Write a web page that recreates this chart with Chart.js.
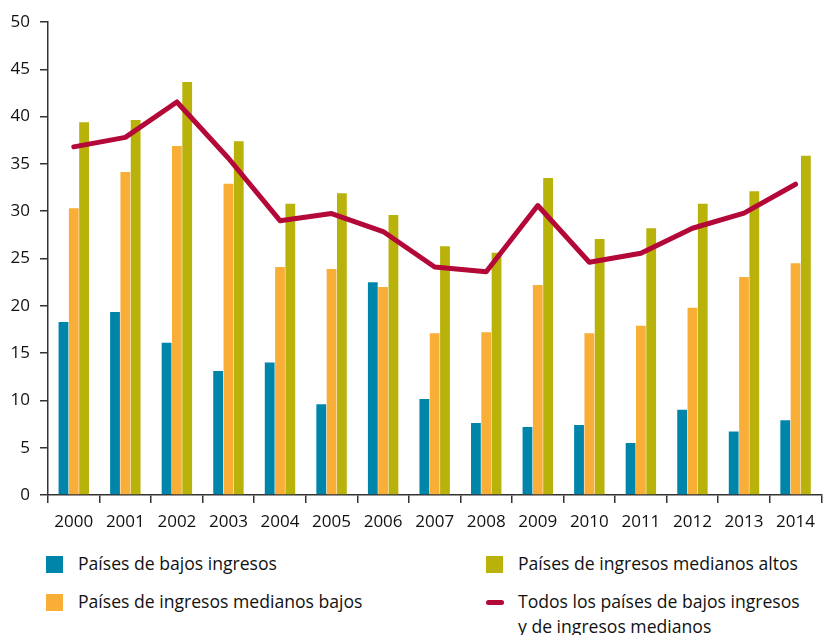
<!DOCTYPE html>
<html>
<head>
<meta charset="utf-8">
<script src="https://cdn.jsdelivr.net/npm/chart.js@4/dist/chart.umd.min.js"></script>
<style>
  html, body { margin:0; padding:0; background:#fff; }
  #wrap { position:relative; width:824px; height:635px; overflow:hidden; font-family:"Open Sans", sans-serif; color:#111; }
  #c { position:absolute; left:0; top:0; }
  .lg { position:absolute; font-size:17.6px; line-height:25px; }
  .sw { position:absolute; width:17px; height:17px; }
  .ln { position:absolute; width:18px; height:5px; border-radius:3px; }
</style>
</head>
<body>
<div id="wrap">
  <canvas id="c" width="824" height="540"></canvas>
  <div id="legend"></div>
</div>
<script>
const years = ["2000","2001","2002","2003","2004","2005","2006","2007","2008","2009","2010","2011","2012","2013","2014"];
const yTicks = [0,5,10,15,20,25,30,35,40,45,50];
const lowIncome = [18.3,19.35,16.1,13.1,14.0,9.6,22.5,10.15,7.6,7.2,7.4,5.5,9.0,6.7,7.9];
const lowerMiddle = [30.3,34.15,36.9,32.9,24.1,23.9,22.0,17.1,17.2,22.2,17.1,17.9,19.8,23.05,24.5];
const upperMiddle = [39.4,39.65,43.65,37.4,30.8,31.9,29.6,26.3,25.6,33.5,27.05,28.2,30.8,32.1,35.85];
const allCountries = [36.8,37.8,41.55,35.6,29.0,29.75,27.85,24.1,23.6,30.6,24.6,25.55,28.2,29.8,32.85];
const seriesNames = ["Países de bajos ingresos","Países de ingresos medianos bajos","Países de ingresos medianos altos","Todos los países de bajos ingresos y de ingresos medianos"];
const colors = ["#0085AA","#F9AE37","#B8B20B","#B30838"];

const axisColor = "#333333";
const tickFont = { family: "'Open Sans', sans-serif", size: 17 };

new Chart(document.getElementById('c'), {
  data: {
    labels: years,
    datasets: [
      { type:'line', label:seriesNames[3], data:allCountries, borderColor:colors[3], backgroundColor:colors[3],
        borderWidth:5, pointRadius:0, tension:0, borderCapStyle:'round', borderJoinStyle:'round', order:0 },
      { type:'bar', label:seriesNames[0], data:lowIncome, backgroundColor:colors[0], categoryPercentage:0.6, barPercentage:0.95, order:1 },
      { type:'bar', label:seriesNames[1], data:lowerMiddle, backgroundColor:colors[1], categoryPercentage:0.6, barPercentage:0.95, order:1 },
      { type:'bar', label:seriesNames[2], data:upperMiddle, backgroundColor:colors[2], categoryPercentage:0.6, barPercentage:0.95, order:1 }
    ]
  },
  options: {
    responsive:false,
    animation:false,
    layout:{ padding:{ top:22, right:0, left:0, bottom:0 } },
    plugins:{ legend:{ display:false }, tooltip:{ enabled:false } },
    scales:{
      x:{
        offset:true,
        grid:{ display:true, offset:true, drawOnChartArea:false, drawTicks:true, tickLength:8, color:axisColor, lineWidth:1.5 },
        border:{ display:true, color:axisColor, width:1.5 },
        ticks:{ font:tickFont, color:'#111', padding:9, maxRotation:0, autoSkip:false },
        afterFit:(s)=>{ s.height = 45; }
      },
      y:{
        min:0, max:50,
        afterBuildTicks:(s)=>{ s.ticks = yTicks.map(v=>({value:v})); },
        grid:{ display:true, drawOnChartArea:false, drawTicks:true, tickLength:8, color:axisColor, lineWidth:1.5 },
        border:{ display:true, color:axisColor, width:1.5 },
        ticks:{ font:tickFont, color:'#111', padding:10 },
        afterFit:(s)=>{ s.width = 48; }
      }
    }
  }
});

// HTML legend built from the series arrays
const lg = document.getElementById('legend');
const pos = [
  {x:46, y:551, type:'box'},
  {x:46, y:589, type:'box'},
  {x:486, y:551, type:'box'},
  {x:486, y:589, type:'line'}
];
seriesNames.forEach((name,i)=>{
  const p = pos[i];
  const m = document.createElement('div');
  if (p.type==='box') {
    m.className='sw'; m.style.left=p.x+'px'; m.style.top=(p.y+5)+'px';
  } else {
    m.className='ln'; m.style.left=p.x+'px'; m.style.top=(p.y+11)+'px';
  }
  m.style.background = colors[i];
  lg.appendChild(m);
  const t = document.createElement('div');
  t.className='lg'; t.style.left=(p.x+32)+'px'; t.style.top=p.y+'px';
  if (i===3) { t.innerHTML = "Todos los países de bajos ingresos<br>y de ingresos medianos"; }
  else t.textContent = name;
  lg.appendChild(t);
});
</script>
</body>
</html>
